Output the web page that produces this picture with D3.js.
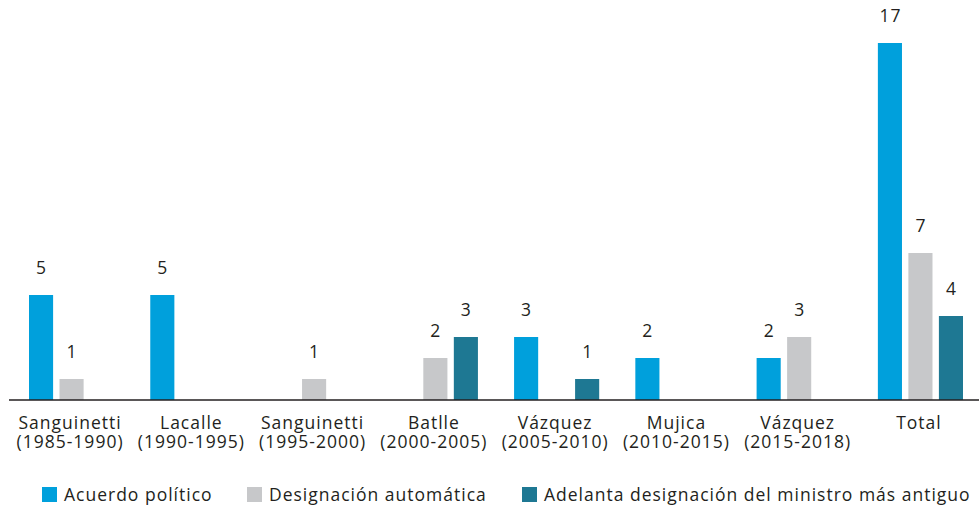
<!DOCTYPE html>
<html>
<head>
<meta charset="utf-8">
<script src="https://cdn.jsdelivr.net/npm/d3@7"></script>
<style>
  body { margin: 0; background: #fff; }
  svg text { font-family: "Open Sans", sans-serif; fill: #231f20; font-size: 17.5px; letter-spacing: 1px; }
</style>
</head>
<body>
<svg id="chart" width="979" height="506"></svg>
<script>
// data
const categories = ['Sanguinetti', 'Lacalle', 'Sanguinetti', 'Batlle', 'Vázquez', 'Mujica', 'Vázquez', 'Total'];
const periods = ['(1985-1990)', '(1990-1995)', '(1995-2000)', '(2000-2005)', '(2005-2010)', '(2010-2015)', '(2015-2018)', ''];
const series = ['Acuerdo político', 'Designación automática', 'Adelanta designación del ministro más antiguo'];
const acuerdo = [5, 5, 0, 0, 3, 2, 2, 17];
const automatica = [1, 0, 1, 2, 0, 0, 3, 7];
const adelanta = [0, 0, 0, 3, 1, 0, 0, 4];
const colors = ['#00a0dc', '#c7c8ca', '#1e7893'];

let svg = d3.select('#chart');
let values = [acuerdo, automatica, adelanta];
let keys = categories.map((c, i) => 'c' + i);

let x0 = d3.scaleBand().domain(keys).range([29, 963]).paddingInner(0.298).paddingOuter(0);
let x1 = d3.scaleBand().domain(series).range([0, x0.bandwidth()]).paddingInner(0.21);
let y = d3.scaleLinear().domain([0, 17]).range([400, 43]);

// bars
let groups = svg.selectAll('g.group')
  .data(keys)
  .enter()
  .append('g')
    .attr('class', 'group')
    .attr('transform', d => 'translate(' + x0(d) + ',0)');

groups.each(function (k, i) {
  let rows = series.map((s, j) => ({ s: s, j: j, v: values[j][i] })).filter(d => d.v > 0);
  let g = d3.select(this);
  g.selectAll('rect')
    .data(rows)
    .enter()
    .append('rect')
      .attr('x', d => x1(d.s))
      .attr('y', d => y(d.v))
      .attr('width', x1.bandwidth())
      .attr('height', d => y(0) - y(d.v))
      .attr('fill', d => colors[d.j]);
  g.selectAll('text')
    .data(rows)
    .enter()
    .append('text')
      .attr('x', d => x1(d.s) + x1.bandwidth() / 2 + 0.5)
      .attr('y', d => y(d.v) - 21)
      .attr('text-anchor', 'middle')
      .text(d => d.v);
});

// axis line
svg.append('line')
  .attr('x1', 9).attr('x2', 979)
  .attr('y1', y(0)).attr('y2', y(0))
  .attr('stroke', '#231f20')
  .attr('stroke-width', 1.5);

// category labels, two lines
let cx = (d, i) => x0(keys[i]) + x0.bandwidth() / 2 - 1.5;
svg.selectAll('text.cat')
  .data(categories)
  .enter()
  .append('text')
    .attr('class', 'cat')
    .attr('text-anchor', 'middle')
    .attr('x', cx)
    .attr('y', 429)
    .text(d => d);
svg.selectAll('text.period')
  .data(periods)
  .enter()
  .append('text')
    .attr('class', 'period')
    .attr('text-anchor', 'middle')
    .attr('x', cx)
    .attr('y', 448)
    .text(d => d);

// legend
let legendX = [42, 247, 522];
let legend = svg.selectAll('g.legend')
  .data(series)
  .enter()
  .append('g')
    .attr('class', 'legend')
    .attr('transform', (d, i) => 'translate(' + legendX[i] + ',487)');
legend.append('rect')
  .attr('width', 15).attr('height', 15)
  .attr('fill', (d, i) => colors[i]);
legend.append('text')
  .attr('x', 22)
  .attr('y', 14)
  .text(d => d);
</script>
</body>
</html>
